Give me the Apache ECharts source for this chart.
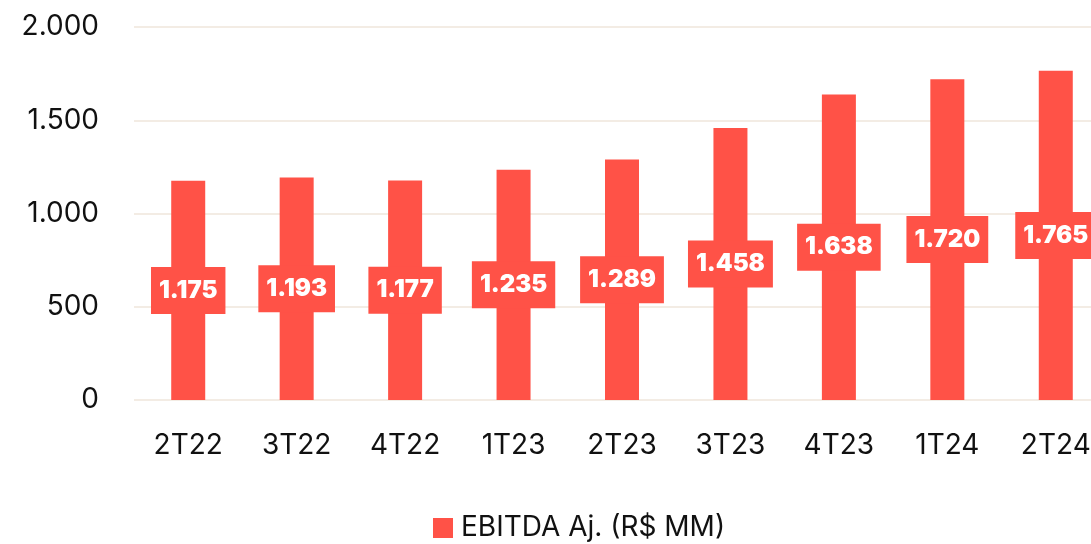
<!DOCTYPE html>
<html>
<head>
<meta charset="utf-8">
<script src="https://cdn.jsdelivr.net/npm/echarts@6/dist/echarts.min.js"></script>
<style>html,body{margin:0;padding:0;background:#fff;}#c{width:1091px;height:544px;}</style>
</head>
<body>
<div id="c"></div>
<script>
const categories = ['2T22','3T22','4T22','1T23','2T23','3T23','4T23','1T24','2T24'];
const ebitda = [1175,1193,1177,1235,1289,1458,1638,1720,1765];
const seriesName = 'EBITDA Aj. (R$ MM)';

const FONT = 'Inter, "Noto Sans", sans-serif';
const RED = '#FF5247';
const chart = echarts.init(document.getElementById('c'), null, {renderer:'canvas'});
chart.setOption({
  animation: false,
  grid: {left: 134, width: 976, top: 27, height: 373, outerBoundsMode: 'none', containLabel: false},
  legend: {
    data: [seriesName],
    top: 509,
    left: 428,
    itemWidth: 20, itemHeight: 20, itemGap: 9,
    icon: 'rect',
    textStyle: {fontFamily: FONT, fontSize: 28, color: '#111', padding: [0, 0, 0, 3]}
  },
  xAxis: {
    type: 'category',
    data: categories,
    axisLine: {show: false},
    axisTick: {show: false},
    axisLabel: {fontFamily: FONT, fontSize: 28, color: '#111', margin: 32}
  },
  yAxis: {
    type: 'value',
    min: 0, max: 2000, interval: 500,
    axisLine: {show: false},
    axisTick: {show: false},
    splitLine: {lineStyle: {color: '#F3ECE4', width: 2}},
    axisLabel: {
      fontFamily: FONT, fontSize: 28, color: '#111', margin: 35,
      formatter: v => v.toLocaleString('de-DE')
    }
  },
  series: [{
    name: seriesName,
    type: 'bar',
    data: ebitda,
    barWidth: 34,
    itemStyle: {color: RED},
    label: {
      show: true,
      position: 'inside',
      formatter: p => p.value.toLocaleString('de-DE'),
      fontFamily: FONT, fontWeight: 900, fontSize: 24, color: '#fff',
      backgroundColor: RED,
      padding: [12, 8, 11, 8]
    }
  }]
});
</script>
</body>
</html>
